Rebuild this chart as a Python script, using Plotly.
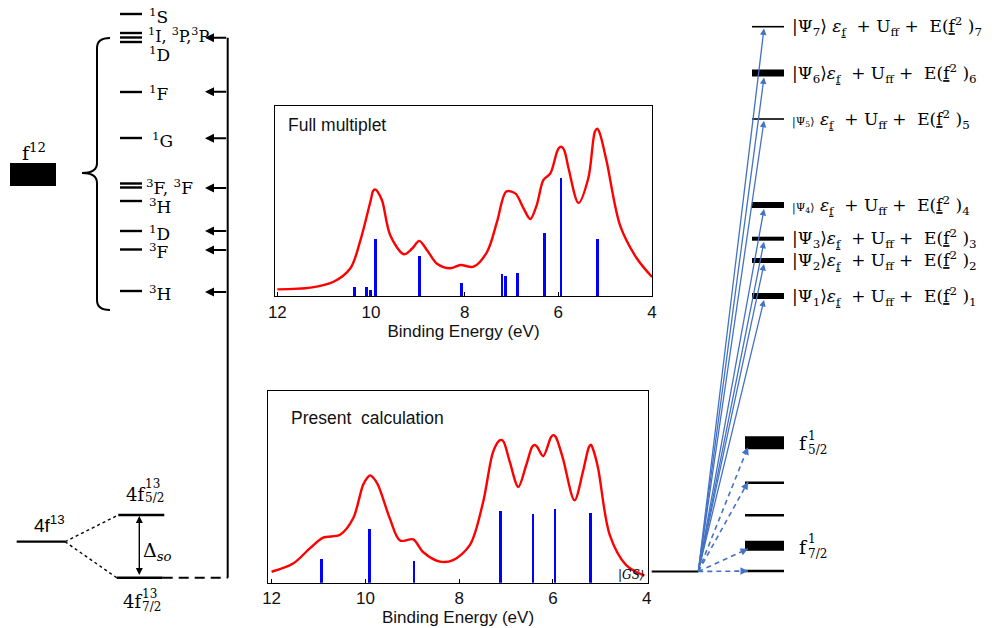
import plotly.graph_objects as go

W, H = 998, 628

# ---------------- spectra (insets) ----------------
tick_vals = [12, 10, 8, 6, 4]
tick_text = ["12", "10", "8", "6", "4"]

# Full multiplet (top inset)
fm_energy = [12.0, 11.29, 10.80, 10.44, 10.23, 10.01, 9.95, 9.90, 9.85, 9.76, 9.59, 9.30, 9.12, 8.97, 8.80,
             8.59, 8.31, 8.09, 7.81, 7.52, 7.31, 7.11, 6.92, 6.74, 6.60, 6.46, 6.32, 6.17, 6.00, 5.93, 5.87,
             5.78, 5.57, 5.36, 5.22, 5.17, 5.12, 4.97, 4.68, 4.33, 4.0]
fm_intensity = [0.035, 0.044, 0.075, 0.146, 0.29, 0.50, 0.555, 0.56, 0.545, 0.50, 0.32, 0.22, 0.25, 0.29, 0.24,
                0.17, 0.146, 0.163, 0.154, 0.233, 0.39, 0.55, 0.54, 0.46, 0.405, 0.48, 0.61, 0.645, 0.775, 0.785, 0.765,
                0.67, 0.49, 0.62, 0.865, 0.88, 0.86, 0.71, 0.37, 0.20, 0.10]
fm_stick_energy = [10.35, 10.10, 10.01, 9.90, 8.97, 8.07, 7.20, 7.13, 6.87, 6.30, 5.94, 5.16]
fm_stick_weight = [0.047, 0.047, 0.03, 0.30, 0.21, 0.067, 0.114, 0.107, 0.12, 0.33, 0.62, 0.30]

# Present calculation (bottom inset)
pc_energy = [12.0, 11.54, 11.18, 10.90, 10.54, 10.26, 10.05, 9.95, 9.90, 9.84, 9.73, 9.48, 9.26, 8.98, 8.77,
             8.41, 8.13, 7.77, 7.49, 7.28, 7.15, 7.10, 7.05, 6.92, 6.74, 6.57, 6.44, 6.39, 6.34, 6.21, 6.04, 5.99, 5.94,
             5.79, 5.54, 5.36, 5.23, 5.19, 5.15, 5.04, 4.79, 4.44, 4.05]
pc_intensity = [0.057, 0.10, 0.18, 0.235, 0.25, 0.336, 0.51, 0.55, 0.56, 0.55, 0.51, 0.336, 0.22, 0.226, 0.16,
                0.11, 0.118, 0.197, 0.42, 0.68, 0.74, 0.745, 0.735, 0.63, 0.50, 0.614, 0.71, 0.718, 0.71, 0.66, 0.76, 0.77, 0.76,
                0.65, 0.43, 0.58, 0.71, 0.72, 0.70, 0.60, 0.25, 0.092, 0.037]
pc_stick_energy = [10.93, 9.90, 8.96, 7.11, 6.42, 5.95, 5.19]
pc_stick_weight = [0.122, 0.28, 0.113, 0.374, 0.36, 0.386, 0.365]

# ---------------- schematic level diagram (canvas units) ----------------
f12_level_y = [14, 33, 37.5, 42, 92, 138, 183.5, 187.5, 201, 231, 249.5, 291]
f12_labels = ["<sup>1</sup>S", "<sup>1</sup>I, <sup>3</sup>P,<sup>3</sup>P", "<sup>1</sup>D",
              "<sup>1</sup>F", "<sup>1</sup>G", "<sup>3</sup>F, <sup>3</sup>F", "<sup>3</sup>H",
              "<sup>1</sup>D", "<sup>3</sup>F", "<sup>3</sup>H"]
f12_label_size = [17, 16, 17, 17, 17, 17, 17, 17, 17, 17]
f12_label_x = [147, 146, 147, 147, 150, 144, 147, 147, 147, 147]
f12_label_y = [16, 35, 54, 93, 140, 187, 206, 233, 251, 293]
f12_arrow_y = [37.7, 91.7, 138.3, 188, 231, 250, 292]

psi_level_y = [296, 260.5, 238.7, 205, 119, 73, 26.7]
psi_level_w = [6, 5, 4, 6, 1.6, 7, 1.6]
psi_index = ["1", "2", "3", "4", "5", "6", "7"]
psi_small = [False, False, False, True, True, False, False]
psi_gap = ["", "", "", " ", " ", "", " "]

f1_level_y = [442.7, 482.7, 515.3, 545.7, 571]
f1_level_w = [13, 2.5, 2.5, 10, 2.5]
f1_arrow_levels = [0, 1, 3, 4]

gs_y = 571.5
gs_x = [651.7, 698.3]

BLUE = "#4472C4"
SERIF = "DejaVu Serif"
SANS = "Liberation Sans"

fig = go.Figure()

def seg(x, y, width=2.2, color="black", dash=None):
    fig.add_trace(go.Scatter(x=x, y=y, mode="lines", xaxis="x", yaxis="y",
                             line=dict(color=color, width=width, dash=dash),
                             hoverinfo="skip", showlegend=False))

# f12 levels
for ly in f12_level_y:
    seg([120, 142], [ly, ly], 2.4)
# vertical connector and dashed link
seg([227.7, 227.7], [37.7, 577.7], 2)
seg([162.7, 227.7], [577.7, 577.7], 2, dash="10px,6px")
# 4f13 levels
seg([16.7, 65], [541.7, 541.7], 2.2)
seg([118.3, 164.3], [515, 515], 2.6)
seg([116.7, 162.7], [577.7, 577.7], 2.6)
seg([65, 118.3], [541.7, 515], 1.4, dash="3px,3px")
seg([65, 116.7], [541.7, 577.7], 1.4, dash="3px,3px")
# f12 box
seg([10, 56], [174.5, 174.5], 23)
# GS level
seg(gs_x, [gs_y, gs_y], 2)
# psi levels
for ly, lw in zip(psi_level_y, psi_level_w):
    seg([752, 784], [ly, ly], lw)
# f1 levels
for ly, lw in zip(f1_level_y, f1_level_w):
    seg([745, 784], [ly, ly], lw)
# dashed blue lines
for i in f1_arrow_levels:
    seg([gs_x[1], 748], [gs_y, f1_level_y[i] + (0 if i == 4 else f1_level_w[i] / 2 - 2)], 1.6, BLUE, "5px,4px")

# spectra traces
fig.add_trace(go.Bar(x=fm_stick_energy, y=fm_stick_weight, width=0.055, marker=dict(color="#0000FF", line=dict(width=0)),
                     xaxis="x2", yaxis="y2", showlegend=False, hoverinfo="skip"))
fig.add_trace(go.Scatter(x=fm_energy, y=fm_intensity, mode="lines", line=dict(color="#FF0000", width=2.4, shape="spline", smoothing=0.9),
                         xaxis="x2", yaxis="y2", showlegend=False, hoverinfo="skip"))
fig.add_trace(go.Bar(x=pc_stick_energy, y=pc_stick_weight, width=0.055, marker=dict(color="#0000FF", line=dict(width=0)),
                     xaxis="x3", yaxis="y3", showlegend=False, hoverinfo="skip"))
fig.add_trace(go.Scatter(x=pc_energy, y=pc_intensity, mode="lines", line=dict(color="#FF0000", width=2.4, shape="spline", smoothing=0.9),
                         xaxis="x3", yaxis="y3", showlegend=False, hoverinfo="skip"))

ann = []
def text(x, y, t, size=17, family=SERIF, xanchor="left", color="black"):
    ann.append(dict(x=x, y=y, xref="x", yref="y", text=t, showarrow=False, xanchor=xanchor,
                    yanchor="middle", font=dict(family=family, size=size, color=color)))

def arrow(x, y, ax, ay, color="black", width=2, size=1.0, head=2, side="end"):
    ann.append(dict(x=x, y=y, ax=ax, ay=ay, xref="x", yref="y", axref="x", ayref="y", text="",
                    showarrow=True, arrowhead=head, arrowsize=size, arrowwidth=width,
                    arrowcolor=color, standoff=0, startstandoff=0, arrowside=side,
                    startarrowhead=head, startarrowsize=size))

for lx, ly, lt, ls in zip(f12_label_x, f12_label_y, f12_labels, f12_label_size):
    text(lx, ly, lt, ls)
for ay_ in f12_arrow_y:
    arrow(205, ay_, 227.7, ay_, width=2, size=0.9)

text(20, 152, "f<sup>12</sup>", 19)
text(32, 524, "4f<sup>13</sup>", 19, SANS)

# stacked super/subscript labels
def stacked(x, y, base, sup, sub, size=18, small=12, dx=0, sup_dy=-10, sub_dy=5):
    text(x, y, base, size)
    text(x + dx, y + sup_dy, sup, small)
    text(x + dx, y + sub_dy, sub, small)

stacked(124, 494, "4f", "13", "5/2", dx=19, sup_dy=-10, sub_dy=4)
stacked(121, 601, "4f", "13", "7/2", dx=19, sup_dy=-7, sub_dy=6)
stacked(797, 443, "f", "1", "5/2", size=19, dx=9, sup_dy=-7, sub_dy=7)
stacked(797, 547, "f", "1", "7/2", size=19, dx=9, sup_dy=-8, sub_dy=7)

arrow(139.3, 516, 139.3, 576.5, width=1.4, size=1.0, head=2, side="end+start")
text(141, 551, "Δ<sub><i>so</i></sub>", 19)

# psi labels and arrows
for ly, lw, idx, small, gap in zip(psi_level_y, psi_level_w, psi_index, psi_small, psi_gap):
    if small:
        ket = "<span style='font-size:11px'>|Ψ<sub>%s</sub>⟩</span>" % idx
    else:
        ket = "|Ψ<sub>%s</sub>⟩" % idx
    t = ket + gap + "<i>ε</i><sub><u>f</u></sub>  + U<sub>ff</sub> +  E(<u>f</u><sup>2</sup> )<sub>%s</sub>" % idx
    text(790, ly, t, 17)
    arrow(764, ly + lw / 2 + 1, gs_x[1], gs_y, color=BLUE, width=1.3, size=1.0)

# f1 arrowheads (dashed lines drawn above)
for i in f1_arrow_levels:
    ty = f1_level_y[i] + (0 if i == 4 else f1_level_w[i] / 2 - 2)
    dx = 748 - gs_x[1]
    dy = ty - gs_y
    n = (dx * dx + dy * dy) ** 0.5
    arrow(748, ty, 748 - 7 * dx / n, ty - 7 * dy / n, color=BLUE, width=1.5, size=1.0)

text(616, 575, "<i>|GS⟩</i>", 12)

# inset labels
ann.append(dict(x=0.03, y=0.90, xref="x2 domain", yref="y2 domain", text="Full multiplet", showarrow=False,
                xanchor="left", yanchor="middle", font=dict(family=SANS, size=17.5, color="#111")))
ann.append(dict(x=0.055, y=0.86, xref="x3 domain", yref="y3 domain", text="Present  calculation", showarrow=False,
                xanchor="left", yanchor="middle", font=dict(family=SANS, size=17.5, color="#111")))

# brace
shapes = [dict(type="path", xref="x", yref="y",
               path="M 110 38 Q 97 38 97 48 L 97 163 Q 97 173 82 173 Q 97 173 97 183 L 97 300 Q 97 310 110 310",
               line=dict(color="black", width=2))]

def inset_x(dom, rng, anchor):
    return dict(domain=dom, range=rng, anchor=anchor, tickmode="array", tickvals=tick_vals, ticktext=tick_text,
                ticks="inside", ticklen=4, tickcolor="black", showline=True, linecolor="black", linewidth=1.3,
                mirror=True, showgrid=False, zeroline=False, automargin=False,
                tickfont=dict(family=SANS, size=17, color="#111"),
                title=dict(text="Binding Energy (eV)", font=dict(family=SANS, size=17, color="#111"), standoff=0))

def inset_y(dom, anchor):
    return dict(domain=dom, range=[0, 1], anchor=anchor, showticklabels=False, ticks="", showline=True,
                linecolor="black", linewidth=1.3, mirror=True, showgrid=False, zeroline=False, automargin=False)

fig.update_layout(
    width=W, height=H, margin=dict(l=0, r=0, t=0, b=0, pad=0), autosize=False,
    paper_bgcolor="white", plot_bgcolor="white", showlegend=False, bargap=0,
    xaxis=dict(domain=[0, 1], range=[0, W], visible=False, fixedrange=True, automargin=False),
    yaxis=dict(domain=[0, 1], range=[H, 0], visible=False, fixedrange=True, automargin=False),
    xaxis2=inset_x([275 / W, 652 / W], [12.05, 4.0], "y2"),
    yaxis2=inset_y([1 - 296 / H, 1 - 106 / H], "x2"),
    xaxis3=inset_x([268.3 / W, 647.7 / W], [12.07, 3.98], "y3"),
    yaxis3=inset_y([1 - 582.7 / H, 1 - 391 / H], "x3"),
    annotations=ann, shapes=shapes,
)

fig.write_html("out.html", config={"displayModeBar": False},
               post_script="document.body.style.margin='0px';document.body.style.overflow='hidden';")
